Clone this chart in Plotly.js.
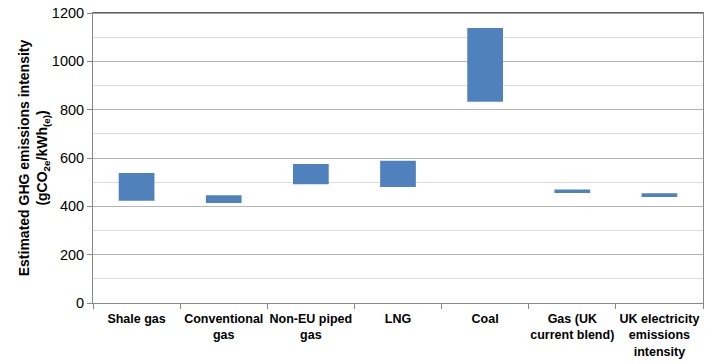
<!DOCTYPE html>
<html>
<head>
<meta charset="utf-8">
<script src="https://cdn.plot.ly/plotly-3.0.1.min.js"></script>
<style>html,body{margin:0;padding:0;background:#fff;}#chart{width:720px;height:364px;}</style>
</head>
<body>
<div id="chart"></div>
<script>
const categories = ["Shale gas", "Conventional<br>gas", "Non-EU piped<br>gas", "LNG", "Coal", "Gas (UK<br>current blend)", "UK electricity<br>emissions<br>intensity"];
const lowValues = [423, 414, 491, 480, 833, 455, 439];
const highValues = [538, 446, 575, 589, 1138, 470, 454];
const yTicks = [0, 200, 400, 600, 800, 1000, 1200];

const trace = {
  type: "bar",
  x: categories,
  y: highValues.map((h, i) => h - lowValues[i]),
  base: lowValues,
  width: 0.41,
  marker: {color: "#4F81BD", line: {width: 0}},
  hoverinfo: "skip"
};

const layout = {
  width: 720, height: 364,
  margin: {l: 93, r: 17, t: 13, b: 61},
  paper_bgcolor: "#fff", plot_bgcolor: "#fff",
  showlegend: false,
  font: {family: "Liberation Sans, Arial, sans-serif", color: "#000"},
  xaxis: {
    type: "category",
    tickson: "boundaries",
    ticks: "outside", ticklen: 5, tickcolor: "#888",
    tickangle: 0,
    ticklabelstandoff: 4,
    showgrid: false,
    showline: true, linecolor: "#888", linewidth: 1, mirror: true,
    tickfont: {size: 12.5, family: "Liberation Sans, Arial, sans-serif", weight: "bold"},
    fixedrange: true
  },
  yaxis: {
    range: [0, 1200],
    tickvals: yTicks,
    ticktext: yTicks.map(String),
    ticks: "outside", ticklen: 5, tickcolor: "#888",
    showline: true, linecolor: "#888", linewidth: 1, mirror: true,
    showgrid: true, gridcolor: "#b4b4b4", gridwidth: 1,
    minor: {dtick: 100, showgrid: true, gridcolor: "#dcdcdc", gridwidth: 1, ticks: ""},
    zeroline: false,
    tickfont: {size: 14.5},
    title: {
      text: "<b>Estimated GHG emissions intensity<br>(gCO<sub>2e</sub>/kWh<sub>(e)</sub>)</b>",
      font: {size: 14},
      standoff: 0
    },
    fixedrange: true
  },
  shapes: [
    {type: "line", xref: "paper", yref: "paper", x0: 0, x1: 1, y0: 1, y1: 1, line: {color: "#404040", width: 1}}
  ]
};

Plotly.newPlot("chart", [trace], layout, {staticPlot: true, displayModeBar: false});
</script>
</body>
</html>
